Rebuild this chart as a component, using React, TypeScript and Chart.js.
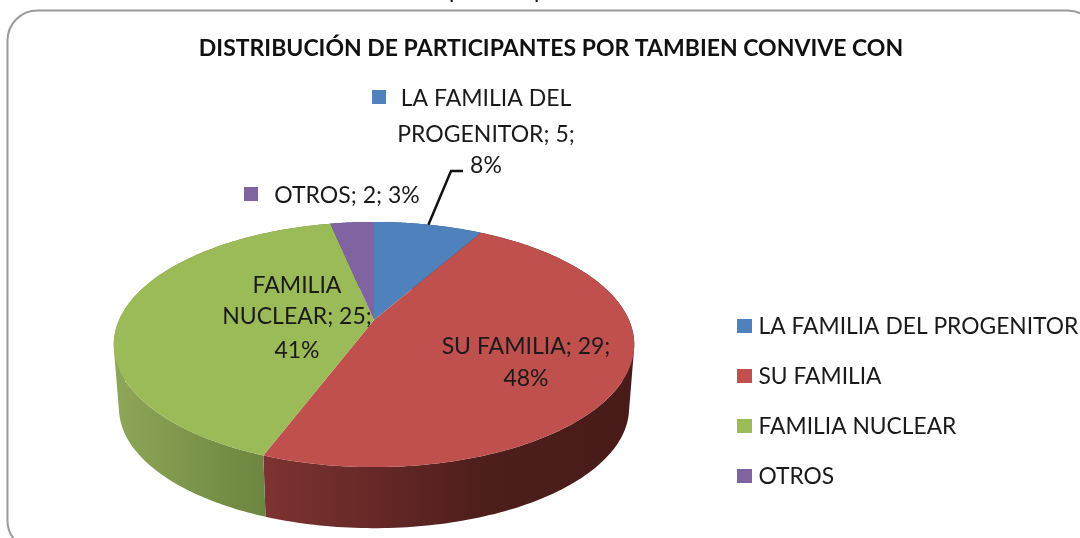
import React, { useEffect, useRef } from "react";
import { Chart, registerables } from "chart.js";

Chart.register(...registerables);

const categories = ["LA FAMILIA DEL PROGENITOR", "SU FAMILIA", "FAMILIA NUCLEAR", "OTROS"];
const values = [5, 29, 25, 2];
const sliceColors = ["#4F81BD", "#C0504D", "#9BBB59", "#8064A2"];
const wallStops: string[][] = [
  ["#3a5f8c", "#2a4568"],
  ["#7d3331", "#4d1e1c", "#481b19"],
  ["#8ca556", "#6c8540"],
  ["#5f4a78", "#4a3a5e"],
];
const chartTitle = "DISTRIBUCIÓN DE PARTICIPANTES POR TAMBIEN CONVIVE CON";
const FONT = "Lato, Carlito, sans-serif";

const labelLines = [
  ["LA FAMILIA DEL", "PROGENITOR; 5;", "8%"],
  ["SU FAMILIA; 29;", "48%"],
  ["FAMILIA", "NUCLEAR; 25;", "41%"],
  ["OTROS; 2; 3%"],
];

// label layout: text centre x, first line y, line gaps, key square x/y
const labelLayout = [
  { x: 486, y: 99, gaps: [36, 31], keyX: 372, keyY: 97 },
  { x: 526, y: 347, gaps: [32], keyX: 413, keyY: 346 },
  { x: 297, y: 286, gaps: [31, 34], keyX: 196, keyY: 284 },
  { x: 347, y: 196, gaps: [], keyX: 244, keyY: 194 },
];
const legendRowsY = [326, 376, 426, 476];
const croppedGlyphsX = [449, 534];

const KEY = 14;
const PERSP = 0.2;
const SQUASH = 0.4615;
const WALL_SCALE = 0.98;
const WALL_DROP = 64;

type P = { x: number; y: number };

function project(cx: number, cy: number, r: number, angle: number, wall: boolean): P {
  const t = angle + Math.PI / 2;
  const u = Math.sin(t);
  const v = Math.cos(t);
  const w = 1 + PERSP * v;
  const x = (u * r) / w;
  const y = (-v * r * SQUASH) / w;
  return wall
    ? { x: cx + x * WALL_SCALE, y: cy + y * WALL_SCALE + WALL_DROP }
    : { x: cx + x, y: cy + y };
}

function signedArea(q: P[]) {
  let s = 0;
  q.forEach((p, i) => {
    const n = q[(i + 1) % q.length];
    s += p.x * n.y - n.x * p.y;
  });
  return s;
}

const piePlugin = {
  id: "perspectivePie",
  afterLayout(chart: any) {
    const t = chart.titleBlock;
    if (t) t.right = t.right + 2 * 177;
  },
  beforeDatasetDraw(chart: any, args: any) {
    const ctx: CanvasRenderingContext2D = chart.ctx;
    const arcs = args.meta.data;
    const STEP = 160;
    ctx.save();
    // side walls: swept strips between the top rim and the lower rim, filled as one path
    arcs.forEach((a: any, i: number) => {
      const isRed = i === 1;
      const x0 = isRed ? a.x - 110 : a.x - 255;
      const x1 = isRed ? a.x + 260 : a.x - 108;
      const g = ctx.createLinearGradient(x0, 0, x1, 0);
      const stops = wallStops[i];
      stops.forEach((s, j) => g.addColorStop(isRed ? [0, 0.6, 1][j] : j / (stops.length - 1), s));
      ctx.fillStyle = g;
      const span = a.endAngle - a.startAngle;
      ctx.beginPath();
      for (let s = 0; s < STEP; s++) {
        const t0 = a.startAngle + (span * s) / STEP;
        const t1 = a.startAngle + (span * (s + 1)) / STEP;
        const q: P[] = [
          project(a.x, a.y, a.outerRadius, t0, false),
          project(a.x, a.y, a.outerRadius, t1, false),
          project(a.x, a.y, a.outerRadius, t1, true),
          project(a.x, a.y, a.outerRadius, t0, true),
        ];
        if (signedArea(q) < 0) q.reverse();
        ctx.moveTo(q[0].x, q[0].y);
        ctx.lineTo(q[1].x, q[1].y);
        ctx.lineTo(q[2].x, q[2].y);
        ctx.lineTo(q[3].x, q[3].y);
        ctx.closePath();
      }
      ctx.fill("nonzero");
    });
    // top faces
    arcs.forEach((a: any) => {
      ctx.fillStyle = a.options.backgroundColor;
      ctx.beginPath();
      ctx.moveTo(a.x, a.y);
      for (let s = 0; s <= STEP; s++) {
        const p = project(a.x, a.y, a.outerRadius, a.startAngle + ((a.endAngle - a.startAngle) * s) / STEP, false);
        ctx.lineTo(p.x, p.y);
      }
      ctx.closePath();
      ctx.fill();
    });
    ctx.restore();
    return false;
  },
  afterDatasetsDraw(chart: any) {
    const ctx: CanvasRenderingContext2D = chart.ctx;
    const arcs = chart.getDatasetMeta(0).data;
    ctx.save();

    // chart frame
    ctx.strokeStyle = "#9a9a9a";
    ctx.lineWidth = 2;
    ctx.beginPath();
    ctx.roundRect(7.5, 10.5, 1090, 540, 30);
    ctx.stroke();

    // leader line of the first label
    const a0 = arcs[0];
    const edge = project(a0.x, a0.y, a0.outerRadius, (a0.startAngle + a0.endAngle) / 2, false);
    ctx.strokeStyle = "#111";
    ctx.lineWidth = 2.5;
    ctx.beginPath();
    ctx.moveTo(edge.x, edge.y);
    ctx.lineTo(451, 171);
    ctx.lineTo(463, 171);
    ctx.stroke();

    // data labels
    ctx.font = `23px ${FONT}`;
    ctx.textAlign = "center";
    ctx.textBaseline = "middle";
    labelLines.forEach((lines, i) => {
      const l = labelLayout[i];
      ctx.fillStyle = sliceColors[i];
      ctx.fillRect(l.keyX, l.keyY - KEY / 2, KEY, KEY);
      ctx.fillStyle = "#1a1a1a";
      let y = l.y;
      lines.forEach((s, j) => {
        ctx.fillText(s, l.x, y);
        y += l.gaps[j] ?? 0;
      });
    });

    // legend
    ctx.font = `22.8px ${FONT}`;
    ctx.textAlign = "left";
    categories.forEach((c, i) => {
      ctx.fillStyle = sliceColors[i];
      ctx.fillRect(737, legendRowsY[i] - 7, 15, 14);
      ctx.fillStyle = "#1a1a1a";
      ctx.fillText(c, 758.5, legendRowsY[i] + 1);
    });

    // descenders of the caption line cut off by the top of the picture
    ctx.textBaseline = "alphabetic";
    ctx.font = `23px ${FONT}`;
    ctx.fillStyle = "#111";
    croppedGlyphsX.forEach((x) => ctx.fillText("p", x, -2));
    ctx.restore();
  },
};

export default function App() {
  const ref = useRef<HTMLCanvasElement>(null);
  useEffect(() => {
    document.body.style.margin = "0";
    const chart = new Chart(ref.current as HTMLCanvasElement, {
      type: "pie",
      data: {
        labels: categories,
        datasets: [{ data: values, backgroundColor: sliceColors, borderWidth: 0 }],
      },
      options: {
        responsive: false,
        animation: false,
        radius: 255,
        layout: { padding: { left: 0, right: 332, top: 0, bottom: 0 } },
        plugins: {
          legend: { display: false },
          tooltip: { enabled: false },
          title: {
            display: true,
            text: chartTitle,
            color: "#111",
            font: { family: FONT, size: 23, weight: "bold" },
            padding: { top: 34.5, bottom: 39.9 },
          },
        },
      } as any,
      plugins: [piePlugin as any],
    });
    return () => chart.destroy();
  }, []);
  return (
    <canvas
      ref={ref}
      width={1080}
      height={538}
      style={{ position: "absolute", left: 0, top: 0, display: "block" }}
    />
  );
}
